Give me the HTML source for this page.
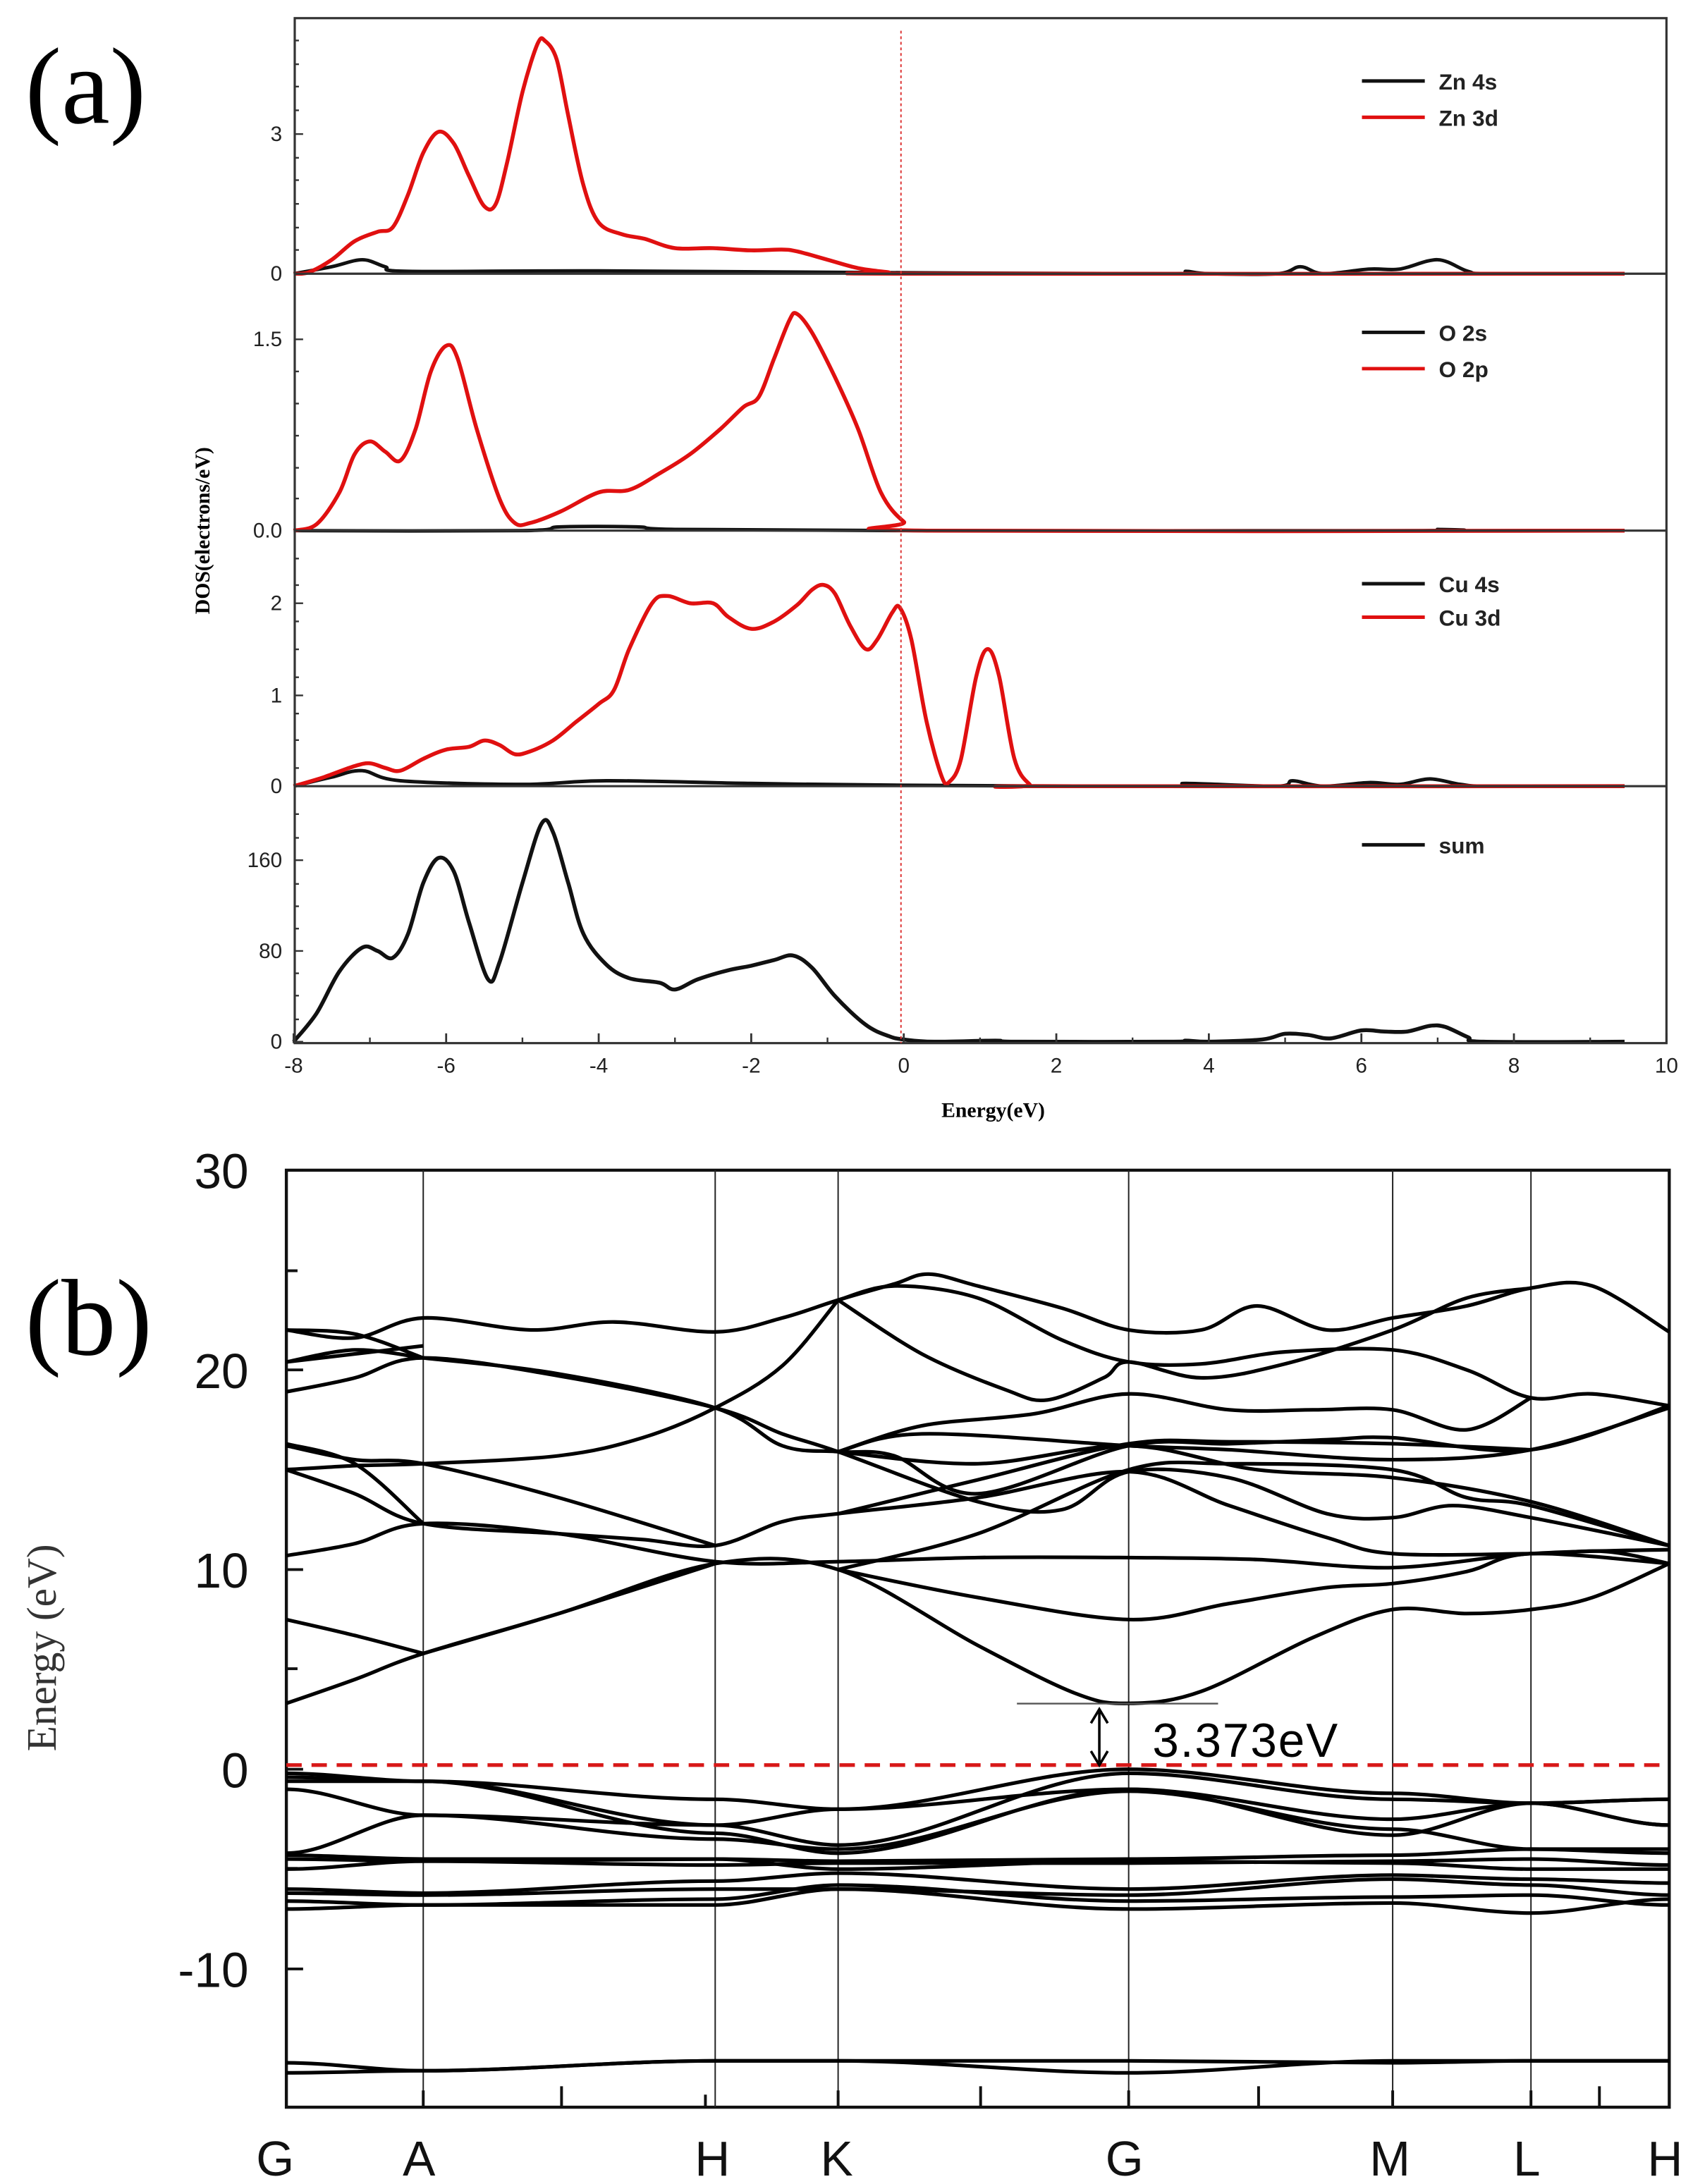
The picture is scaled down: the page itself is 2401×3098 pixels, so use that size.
<!DOCTYPE html>
<html><head><meta charset="utf-8">
<style>
html,body{margin:0;padding:0;background:#fff;}
svg{display:block;}
</style></head>
<body>
<svg id="s" xmlns="http://www.w3.org/2000/svg" width="2401" height="3098" viewBox="0 0 1212 1564" preserveAspectRatio="none">
<rect x="0" y="0" width="1212" height="1564" fill="#fff"/>
<text x="18" y="88" font-family="Liberation Serif, serif" font-size="78">(a)</text>
<g id="pa"></g>
<rect x="211" y="13" width="982" height="734" fill="none" stroke="#333" stroke-width="1.6"/>
<line x1="211" y1="196" x2="1193" y2="196" stroke="#333" stroke-width="1.6"/>
<line x1="211" y1="380" x2="1193" y2="380" stroke="#333" stroke-width="1.6"/>
<line x1="211" y1="563" x2="1193" y2="563" stroke="#333" stroke-width="1.6"/>
<line x1="645" y1="22" x2="645" y2="747" stroke="#d33" stroke-width="1" stroke-dasharray="2,2"/>
<g font-family="Liberation Sans, sans-serif" font-size="15" fill="#222" text-anchor="end">
<text x="202" y="101">3</text><text x="202" y="201">0</text>
<text x="202" y="248">1.5</text><text x="202" y="385">0.0</text>
<text x="202" y="437">2</text><text x="202" y="503">1</text><text x="202" y="568">0</text>
<text x="202" y="621">160</text><text x="202" y="686">80</text><text x="202" y="751">0</text>
</g>
<g font-family="Liberation Sans, sans-serif" font-size="15" fill="#222" text-anchor="middle" id="axt"></g>
<text x="711" y="800" font-family="Liberation Serif, serif" font-weight="bold" font-size="15" text-anchor="middle">Energy(eV)</text>
<text transform="translate(150,380) rotate(-90)" font-family="Liberation Serif, serif" font-weight="bold" font-size="15" text-anchor="middle">DOS(electrons/eV)</text>
<g font-family="Liberation Sans, sans-serif" font-weight="bold" font-size="16" fill="#222">
<line x1="975" y1="58" x2="1020" y2="58" stroke="#111" stroke-width="2.5"/><text x="1030" y="64">Zn 4s</text>
<line x1="975" y1="84" x2="1020" y2="84" stroke="#e01010" stroke-width="2.5"/><text x="1030" y="90">Zn 3d</text>
<line x1="975" y1="238" x2="1020" y2="238" stroke="#111" stroke-width="2.5"/><text x="1030" y="244">O 2s</text>
<line x1="975" y1="264" x2="1020" y2="264" stroke="#e01010" stroke-width="2.5"/><text x="1030" y="270">O 2p</text>
<line x1="975" y1="418" x2="1020" y2="418" stroke="#111" stroke-width="2.5"/><text x="1030" y="424">Cu 4s</text>
<line x1="975" y1="442" x2="1020" y2="442" stroke="#e01010" stroke-width="2.5"/><text x="1030" y="448">Cu 3d</text>
<line x1="975" y1="605" x2="1020" y2="605" stroke="#111" stroke-width="2.5"/><text x="1030" y="611">sum</text>
</g>
<text x="18" y="970" font-family="Liberation Serif, serif" font-size="78">(b)</text>
<g id="pb"></g>
<g font-family="Liberation Sans, sans-serif" font-size="35" fill="#111" text-anchor="end">
<text x="178" y="851">30</text><text x="178" y="994">20</text><text x="178" y="1137">10</text>
<text x="178" y="1280">0</text><text x="178" y="1423">-10</text>
</g>
<text transform="translate(40,1180) rotate(-90)" font-family="Liberation Serif, serif" font-size="30" fill="#333" text-anchor="middle">Energy (eV)</text>
<g font-family="Liberation Sans, sans-serif" font-size="35" fill="#111" text-anchor="middle">
<text x="197" y="1558">G</text><text x="300" y="1558">A</text><text x="510" y="1558">H</text>
<text x="599" y="1558">K</text><text x="805" y="1558">G</text><text x="995" y="1558">M</text>
<text x="1093" y="1558">L</text><text x="1192" y="1558">H</text>
</g>
<text x="825" y="1258" font-family="Liberation Sans, sans-serif" font-size="34" letter-spacing="1">3.373eV</text>
</svg>
<script>
const NS='http://www.w3.org/2000/svg';
function el(p,tag,a){const e=document.createElementNS(NS,tag);for(const k in a)e.setAttribute(k,a[k]);p.appendChild(e);return e;}
function cr(pts){let d='M'+pts[0][0].toFixed(1)+','+pts[0][1].toFixed(1);
 for(let i=0;i<pts.length-1;i++){const p0=pts[i-1]||pts[i],p1=pts[i],p2=pts[i+1],p3=pts[i+2]||p2;
  const c1=[p1[0]+(p2[0]-p0[0])/6,p1[1]+(p2[1]-p0[1])/6],c2=[p2[0]-(p3[0]-p1[0])/6,p2[1]-(p3[1]-p1[1])/6];
  d+='C'+c1.map(v=>v.toFixed(1))+' '+c2.map(v=>v.toFixed(1))+' '+p2.map(v=>v.toFixed(1));}
 return d;}
const pa=document.getElementById('pa');
const X=e=>647+54.6*e;
const subs=[{b:196,s:33.3},{b:380,s:91.3},{b:563,s:65.5},{b:746,s:0.8125}];
function dos(i,data,col,w){const S=subs[i];el(pa,'path',{d:cr(data.map(p=>[X(p[0]),S.b-S.s*p[1]])),fill:'none',stroke:col,'stroke-width':w,'stroke-linejoin':'round'});}
const RED='#e01010',BLK='#111';
dos(0,[[-8,0],[-7.5,0.15],[-7.1,0.3],[-6.8,0.15],[-6.5,0.05],[-4,0.06],[0,0.02],[3.5,0],[3.7,0.05],[4,0],[4.9,0],[5.2,0.15],[5.5,0],[6.1,0.1],[6.5,0.1],[7.0,0.3],[7.4,0.05],[7.7,0],[9.45,0]],BLK,2.5);
dos(0,[[-8,0],[-7.8,0.03],[-7.5,0.3],[-7.2,0.7],[-6.9,0.9],[-6.7,1.0],[-6.5,1.7],[-6.3,2.6],[-6.1,3.05],[-5.9,2.8],[-5.7,2.1],[-5.5,1.45],[-5.35,1.5],[-5.2,2.4],[-5.0,3.9],[-4.8,4.95],[-4.7,5.0],[-4.55,4.6],[-4.4,3.4],[-4.2,1.9],[-4.0,1.1],[-3.7,0.85],[-3.4,0.75],[-3.0,0.55],[-2.5,0.55],[-2,0.5],[-1.6,0.52],[-1.4,0.48],[-1.0,0.3],[-0.6,0.12],[-0.2,0.03],[0,0],[9.45,0]],RED,2.8);
dos(1,[[-8,0],[-5,0],[-4.5,0.03],[-3.5,0.03],[-3,0.01],[0,0],[6.8,0],[7.0,0.01],[7.3,0],[9.45,0]],BLK,2.5);
dos(1,[[-8,0],[-7.7,0.05],[-7.4,0.3],[-7.2,0.6],[-7.0,0.7],[-6.8,0.62],[-6.6,0.55],[-6.4,0.8],[-6.2,1.25],[-6.0,1.45],[-5.85,1.35],[-5.6,0.8],[-5.3,0.25],[-5.1,0.06],[-4.9,0.06],[-4.5,0.15],[-4,0.3],[-3.6,0.32],[-3.2,0.45],[-2.8,0.6],[-2.4,0.8],[-2.1,0.97],[-1.9,1.05],[-1.7,1.35],[-1.5,1.65],[-1.4,1.7],[-1.2,1.55],[-0.9,1.2],[-0.6,0.8],[-0.3,0.3],[0,0.07],[0.3,0],[9.45,0]],RED,2.8);
dos(2,[[-8,0],[-7.5,0.1],[-7.1,0.17],[-6.6,0.06],[-5,0.02],[-3.9,0.06],[-2,0.03],[0,0.01],[3.5,0],[3.7,0.03],[4.9,0],[5.1,0.06],[5.5,0],[6.1,0.04],[6.5,0.02],[6.9,0.08],[7.3,0.02],[7.7,0],[9.45,0]],BLK,2.5);
dos(2,[[-8,0],[-7.6,0.1],[-7.2,0.22],[-7.0,0.25],[-6.8,0.2],[-6.6,0.17],[-6.3,0.3],[-6.0,0.4],[-5.7,0.43],[-5.5,0.5],[-5.3,0.45],[-5.1,0.35],[-4.9,0.38],[-4.6,0.5],[-4.3,0.7],[-4.0,0.9],[-3.8,1.05],[-3.6,1.5],[-3.3,2.0],[-3.1,2.08],[-2.8,2.0],[-2.5,2.0],[-2.3,1.85],[-2.0,1.72],[-1.7,1.8],[-1.4,1.98],[-1.2,2.15],[-1.05,2.2],[-0.9,2.1],[-0.7,1.75],[-0.5,1.5],[-0.35,1.6],[-0.15,1.9],[-0.05,1.95],[0.1,1.6],[0.3,0.7],[0.5,0.1],[0.6,0.05],[0.75,0.3],[0.95,1.2],[1.1,1.5],[1.25,1.2],[1.45,0.3],[1.65,0.02],[1.8,0],[9.45,0]],RED,2.8);
dos(3,[[-8,0],[-7.7,25],[-7.4,62],[-7.1,83],[-6.9,80],[-6.7,74],[-6.5,95],[-6.3,140],[-6.1,162],[-5.9,150],[-5.7,105],[-5.45,55],[-5.3,70],[-5.0,140],[-4.75,192],[-4.6,185],[-4.4,140],[-4.2,95],[-3.9,68],[-3.6,56],[-3.2,52],[-3.0,46],[-2.7,55],[-2.3,63],[-2.0,67],[-1.7,72],[-1.45,76],[-1.2,65],[-0.9,40],[-0.5,15],[-0.2,5],[0,2],[0.4,0],[1.2,1],[1.5,0],[3.5,0],[3.7,1],[4,0],[4.7,2],[5.0,7],[5.3,6],[5.6,3],[6.0,10],[6.3,9],[6.6,9],[6.9,14],[7.1,13],[7.4,4],[7.6,0],[9.45,0]],BLK,2.8);
const axt=document.getElementById('axt');
for(let e=-8;e<=10;e+=2){const x=X(e);el(pa,'line',{x1:x,y1:747,x2:x,y2:740,stroke:'#333','stroke-width':1.4});
 const t=el(axt,'text',{x:x,y:768});t.textContent=e;}
for(let e=-7;e<=9;e+=2){const x=X(e);el(pa,'line',{x1:x,y1:747,x2:x,y2:743,stroke:'#333','stroke-width':1.2});}
function yt(ys,len){ys.forEach(y=>el(pa,'line',{x1:211,y1:y,x2:211+len,y2:y,stroke:'#333','stroke-width':1.2}));}
yt([96,196,243,380,432,498,563,616,681,746],6);
yt([29,46,62,79,113,129,146,163,179,266,289,312,335,357,400,419,445,465,485,511,530,550,583,600,633,649,665,697,713,730],3);
const pb=document.getElementById('pb');
const K=[205,303,512,600,808,997,1096,1195];
const Y=e=>1267-14.3*e;
el(pb,'rect',{x:205,y:838,width:990,height:671,fill:'none',stroke:'#111','stroke-width':2.2});
K.slice(1,7).forEach(x=>el(pb,'line',{x1:x,y1:838,x2:x,y2:1509,stroke:'#222','stroke-width':1}));
[838,981,1124,1267,1410].forEach(y=>el(pb,'line',{x1:205,y1:y,x2:217,y2:y,stroke:'#111','stroke-width':2}));
[910,1052,1195,1338].forEach(y=>el(pb,'line',{x1:205,y1:y,x2:213,y2:y,stroke:'#111','stroke-width':2}));
[303,600,808,997,1096].forEach(x=>el(pb,'line',{x1:x,y1:1509,x2:x,y2:1497,stroke:'#111','stroke-width':2}));
[402,702,901,1145].forEach(x=>el(pb,'line',{x1:x,y1:1509,x2:x,y2:1494,stroke:'#111','stroke-width':2}));
[505].forEach(x=>el(pb,'line',{x1:x,y1:1509,x2:x,y2:1500,stroke:'#111','stroke-width':2}));
function band(vals){
 let d='M'+vals[0][0]+','+Y(vals[0][1]).toFixed(1);
 for(let i=0;i<vals.length-1;i++){const [x1,e1]=vals[i],[x2,e2]=vals[i+1],dx=x2-x1;
  d+='C'+(x1+dx/3).toFixed(1)+','+Y(e1).toFixed(1)+' '+(x2-dx/3).toFixed(1)+','+Y(e2).toFixed(1)+' '+x2+','+Y(e2).toFixed(1);}
 el(pb,'path',{d:d,fill:'none',stroke:'#000','stroke-width':2.6,'stroke-linejoin':'round'});}
function kb(arr){band(arr.map((e,i)=>[K[i],e]));}
function lin(pts){el(pb,'path',{d:cr(pts.map(p=>[p[0],Y(p[1])])),fill:'none',stroke:'#000','stroke-width':2.6});}
lin([[205,3.3],[254,4.5],[303,5.8],[400,7.8],[512,10.3],[600,10.0],[700,6.2],[770,3.8],[808,3.3],[860,3.9],[940,6.6],[997,8.0],[1050,7.8],[1096,8.0],[1140,8.6],[1195,10.3]]);
lin([[205,7.5],[254,6.7],[303,5.8]]);
lin([[303,5.8],[400,7.8],[512,10.3]]);
lin([[600,10.0],[700,8.6],[808,7.5],[880,8.3],[950,9.1],[997,9.3],[1050,9.9],[1096,10.8],[1195,10.3]]);
lin([[205,10.7],[254,11.3],[303,12.3],[400,11.8],[512,10.4],[600,10.4],[700,10.6],[808,10.6],[900,10.5],[997,10.1],[1096,10.8],[1195,11.0]]);
lin([[205,15.0],[254,13.8],[303,12.3],[400,11.8],[460,11.5],[512,11.2],[560,12.4],[600,12.8],[700,13.6],[808,14.9],[880,13.2],[950,11.6],[997,10.8],[1096,10.8],[1150,10.9],[1195,10.3]]);
lin([[205,16.2],[254,15.5],[303,15.3],[400,13.6],[512,11.2]]);
lin([[205,15.0],[254,15.2],[303,15.3],[400,15.7],[460,16.6],[512,18.1],[560,20.2],[600,23.5]]);
lin([[205,16.3],[254,15.3],[303,12.3]]);
lin([[205,18.9],[254,19.6],[303,20.6],[400,19.7],[512,18.1],[560,16.8],[600,15.9],[700,13.4],[760,13.0],[808,14.9],[880,14.6],[950,12.8],[997,12.6],[1040,13.2],[1096,12.6],[1195,11.2]]);
lin([[205,20.4],[254,20.8],[303,21.2]]);
lin([[205,20.4],[254,21.0],[303,20.6]]);
lin([[303,20.6],[400,19.8],[512,18.1],[560,16.2],[600,15.9],[640,15.7],[700,13.8],[808,16.2],[880,16.3],[950,16.5],[997,16.6],[1096,16.0],[1195,18.2]]);
lin([[205,22.0],[254,21.6],[303,22.6],[380,22.0],[440,22.4],[512,21.9],[560,22.6],[600,23.5],[640,24.3],[665,24.8],[700,24.2],[760,23.1],[808,22.0],[860,22.0],[900,23.2],[950,22.0],[997,22.6],[1050,23.2],[1096,24.1],[1140,24.2],[1195,21.9]]);
lin([[205,22.0],[254,21.8],[303,20.6]]);
lin([[600,23.5],[640,24.2],[700,23.6],[760,21.5],[808,20.4],[860,20.3],[920,20.9],[997,21.0],[1050,20.0],[1096,18.6],[1140,18.8],[1195,18.2]]);
lin([[600,23.5],[660,20.8],[720,19.0],[750,18.5],[790,19.6],[808,20.4],[860,19.6],[920,20.3],[997,22.0],[1050,23.6],[1096,24.1]]);
lin([[600,15.9],[660,17.2],[740,17.8],[808,18.8],[880,18.0],[940,18.0],[997,18.0],[1050,17.0],[1096,18.6]]);
lin([[600,15.9],[660,16.8],[808,16.2],[880,16.0],[997,15.5],[1096,16.0],[1195,18.1]]);
lin([[600,15.9],[700,15.3],[808,16.2],[900,15.0],[997,14.6],[1096,13.4],[1195,11.2]]);
lin([[600,12.8],[700,14.5],[808,16.3],[880,16.4],[997,16.3],[1096,16.0]]);
lin([[600,10.0],[700,11.8],[808,15.0],[880,15.3],[997,15.0],[1050,13.6],[1096,13.2],[1195,11.2]]);
kb([-0.2,-0.6,-1.5,-2.0,0.0,-1.2,-1.7,-1.5]);
kb([-0.4,-0.6,-2.8,-3.8,-0.2,-1.5,-1.7,-2.8]);
kb([-1.0,-2.3,-2.8,-2.0,-1.0,-2.5,-1.7,-1.5]);
kb([-4.2,-2.3,-3.5,-4.0,-1.1,-3.0,-4.0,-4.0]);
kb([-4.3,-4.5,-4.5,-4.6,-4.5,-4.3,-4.0,-4.2]);
kb([-4.5,-4.6,-4.8,-4.7,-4.7,-4.6,-4.5,-4.8]);
kb([-5.0,-4.6,-4.5,-5.0,-4.6,-4.7,-5.0,-5.0]);
kb([-6.0,-6.2,-5.6,-5.2,-6.0,-5.3,-5.5,-5.7]);
kb([-6.2,-6.3,-6.0,-6.0,-6.3,-5.5,-5.8,-6.3]);
kb([-6.6,-6.8,-6.8,-6.0,-7.0,-6.7,-7.2,-6.5]);
kb([-7.0,-6.8,-6.5,-5.8,-6.6,-6.4,-6.3,-6.8]);
kb([-0.6,-0.6,-3.2,-4.2,-1.0,-3.3,-1.7,-2.8]);
kb([-14.7,-15.1,-14.6,-14.6,-14.6,-14.7,-14.6,-14.6]);
kb([-15.2,-15.1,-14.6,-14.6,-15.2,-14.6,-14.6,-14.6]);
el(pb,'line',{x1:205,y1:1264,x2:1195,y2:1264,stroke:'#d81818','stroke-width':2.6,'stroke-dasharray':'11,7'});
el(pb,'line',{x1:728,y1:1220,x2:872,y2:1220,stroke:'#555','stroke-width':1.2});
el(pb,'line',{x1:787,y1:1226,x2:787,y2:1262,stroke:'#000','stroke-width':1.8});
el(pb,'path',{d:'M781,1234 L787,1224 L793,1234 M781,1254 L787,1264 L793,1254',fill:'none',stroke:'#000','stroke-width':1.8});
</script>
</body></html>
